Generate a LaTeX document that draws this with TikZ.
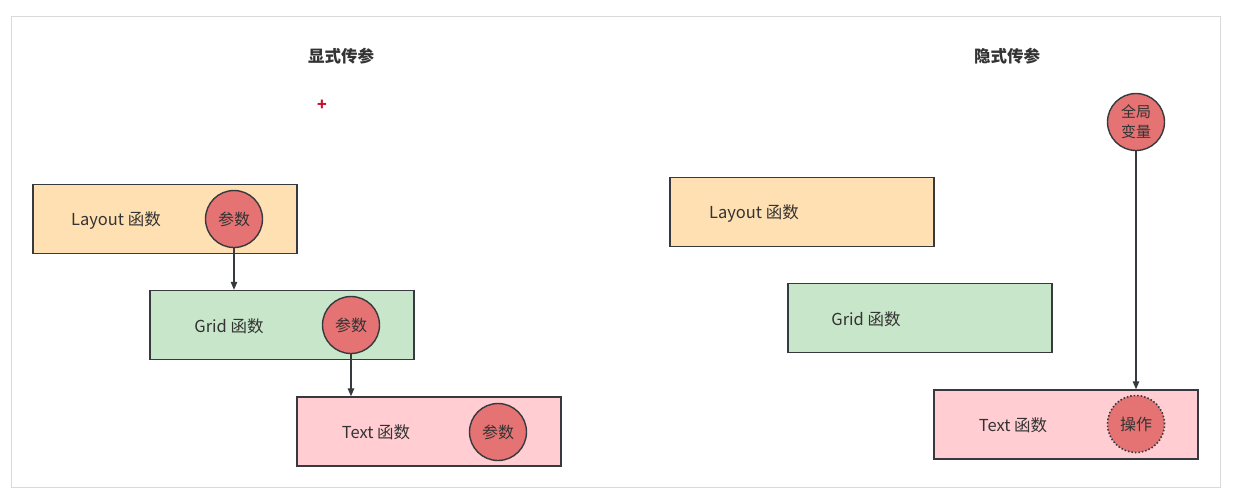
\documentclass[tikz,border=0pt]{standalone}
\usepackage{fontspec}
\setmainfont{Noto Sans CJK SC}
\usetikzlibrary{arrows.meta}
\definecolor{frameC}{HTML}{D9D9D9}
\definecolor{strokeC}{HTML}{36393D}
\definecolor{orangeF}{HTML}{FFE0B2}
\definecolor{greenF}{HTML}{C8E6C9}
\definecolor{pinkF}{HTML}{FFCDD2}
\definecolor{redF}{HTML}{E57373}
\definecolor{textC}{HTML}{333333}
\definecolor{plusC}{HTML}{C8102E}
\tikzset{
  fbox/.style={draw=strokeC, line width=1.4pt, minimum width=264pt, minimum height=69pt, inner sep=0pt},
  lbl/.style={text=textC, font=\fontsize{16.5}{19}\selectfont, inner sep=0pt},
  ball/.style={circle, draw=strokeC, line width=1.4pt, fill=redF, minimum size=57pt, inner sep=0pt, text=textC, font=\fontsize{16}{19}\selectfont, align=center},
  ttl/.style={text=textC, font=\bfseries\fontsize{16.5}{19}\selectfont},
  conn/.style={draw=strokeC, line width=1.3pt, -{Triangle[length=8pt,width=6.5pt]}}
}
\begin{document}
\begin{tikzpicture}[x=1pt,y=-1pt]
\useasboundingbox (0,0) rectangle (1235,501);
\draw[frameC, line width=1pt] (11,16) rectangle (1220,487);
\node[ttl] (t1) at (341,56) {显式传参};
\node[ttl] (t2) at (1007,56) {隐式传参};
\node[text=plusC, font=\bfseries\fontsize{16}{18}\selectfont] (plus) at (322,105) {+};
% left
\node[fbox, fill=orangeF] (lay) at (165,219) {};
\node[lbl] (layt) at (116,220) {Layout 函数};
\node[ball] (c1) at (234,219) {参数};
\node[fbox, fill=greenF] (grid) at (282,325) {};
\node[lbl] (gridt) at (229,326) {Grid 函数};
\node[ball] (c2) at (351,325) {参数};
\node[fbox, fill=pinkF] (txt) at (429,431.5) {};
\node[lbl] (txtt) at (376,432) {Text 函数};
\node[ball] (c3) at (498,432) {参数};
\draw[conn] (c1.south) -- (c1.south |- grid.north);
\draw[conn] (c2.south) -- (c2.south |- txt.north);
% right
\node[fbox, fill=orangeF] (lay2) at (802,212) {};
\node[lbl] (lay2t) at (754,213) {Layout 函数};
\node[fbox, fill=greenF] (grid2) at (920,318) {};
\node[lbl] (grid2t) at (866,319) {Grid 函数};
\node[fbox, fill=pinkF] (txt2) at (1066,424.5) {};
\node[lbl] (txt2t) at (1013,425) {Text 函数};
\node[ball, dash pattern=on 1.5pt off 2pt, line width=1.6pt] (op) at (1136,424) {操作};
\node[ball, font=\fontsize{15}{20}\selectfont] (gv) at (1136,122) {全局\\变量};
\draw[conn] (gv.south) -- (gv.south |- txt2.north);
\end{tikzpicture}
\end{document}
